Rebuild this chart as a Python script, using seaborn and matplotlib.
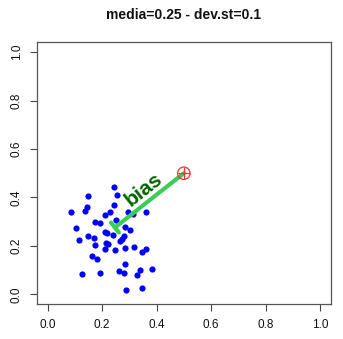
import numpy as np
import pandas as pd
import matplotlib
matplotlib.use("Agg")
import matplotlib.pyplot as plt
import seaborn as sns

# Simulated shots around the mean
shot_x = [0.243, 0.150, 0.254, 0.146, 0.139, 0.086, 0.243, 0.228, 0.210, 0.296,
          0.314, 0.361, 0.175, 0.193, 0.251, 0.285, 0.106, 0.209, 0.217, 0.241,
          0.302, 0.147, 0.169, 0.117, 0.279, 0.273, 0.267, 0.174, 0.213, 0.223,
          0.210, 0.248, 0.285, 0.318, 0.361, 0.348, 0.163, 0.181, 0.283, 0.262,
          0.279, 0.338, 0.384, 0.128, 0.194, 0.327, 0.286, 0.345]
shot_y = [0.442, 0.406, 0.411, 0.359, 0.345, 0.341, 0.370, 0.338, 0.327, 0.340,
          0.330, 0.338, 0.300, 0.294, 0.307, 0.279, 0.274, 0.257, 0.252, 0.246,
          0.264, 0.241, 0.234, 0.225, 0.241, 0.229, 0.221, 0.202, 0.213, 0.208,
          0.186, 0.184, 0.192, 0.194, 0.186, 0.176, 0.157, 0.147, 0.126, 0.097,
          0.088, 0.102, 0.103, 0.085, 0.087, 0.078, 0.017, 0.027]

target = (0.5, 0.5)
center = (0.247, 0.276)
title = "media=0.25 - dev.st=0.1"
ticks = [0.0, 0.2, 0.4, 0.6, 0.8, 1.0]
tick_labels = ["0.0", "0.2", "0.4", "0.6", "0.8", "1.0"]

plt.rcParams["font.family"] = ["Liberation Sans", "DejaVu Sans"]

fig = plt.figure(figsize=(3.43, 3.39), dpi=100)
ax = fig.add_axes([0.107, 0.103, 0.858, 0.772])

df = pd.DataFrame({"x": shot_x, "y": shot_y})
sns.scatterplot(data=df, x="x", y="y", ax=ax, color="#0000FF", s=20,
                linewidth=0, zorder=3)

ax.set_xlim(-0.04, 1.04)
ax.set_ylim(-0.04, 1.04)

# Bias segment from the mean to the target, flat cap at the mean
ax.annotate("", xy=target, xytext=center,
            arrowprops=dict(arrowstyle="|-|, widthA=0.45, widthB=0.0",
                            color="#3DCC57", lw=3.0, shrinkA=0, shrinkB=0),
            zorder=4)

# Target marker: circle with a cross
ax.scatter([target[0]], [target[1]], s=80, marker="o", facecolors="none",
           edgecolors="#FF3030", linewidths=0.9, zorder=7)
ax.scatter([target[0]], [target[1]], s=80, marker="+", color="#FF3030",
           linewidths=0.9, zorder=7)

# Label along the segment
p0 = ax.transData.transform(center)
p1 = ax.transData.transform(target)
angle = np.degrees(np.arctan2(p1[1] - p0[1], p1[0] - p0[0]))
ax.text(0.352, 0.432, "bias", rotation=angle, rotation_mode="anchor",
        ha="center", va="center", fontsize=15, fontweight="bold",
        color="#006400", zorder=6)

ax.set_xticks(ticks)
ax.set_xticklabels(tick_labels)
ax.set_yticks(ticks)
ax.set_yticklabels(tick_labels, rotation=90, va="center")
ax.tick_params(axis="both", direction="out", length=5, width=0.8,
               labelsize=8.5, color="#444444", labelcolor="#111111")
ax.tick_params(axis="x", pad=6)
ax.tick_params(axis="y", pad=5)
ax.set_xlabel("")
ax.set_ylabel("")
for sp in ax.spines.values():
    sp.set_color("#555555")
    sp.set_linewidth(0.9)

fig.text(0.536, 0.955, title, ha="center", va="center",
         fontsize=10, fontweight="bold", color="#111111")

fig.savefig("out.png", dpi=100)
